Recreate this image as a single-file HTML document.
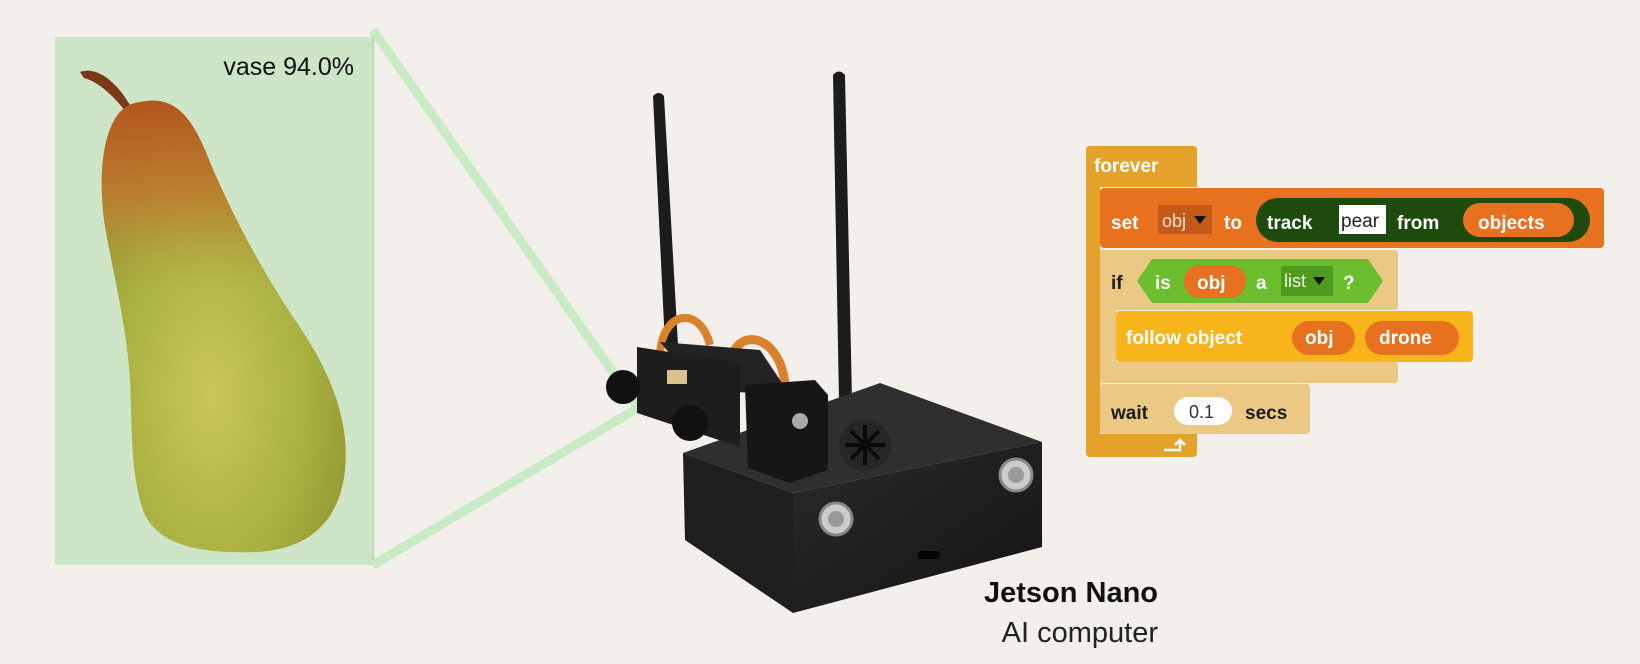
<!DOCTYPE html>
<html><head><meta charset="utf-8"><style>
html,body{margin:0;padding:0;background:#F3EFEB;}
svg{display:block}
.b{font-family:"Liberation Sans",sans-serif;font-weight:bold;font-size:19px;fill:#fff}
.k{fill:#1b1b1b}
</style></head><body>
<svg width="1640" height="664" viewBox="0 0 1640 664" xmlns="http://www.w3.org/2000/svg">
<defs>
<radialGradient id="pg" cx="0.45" cy="0.65" r="0.7">
<stop offset="0" stop-color="#C9C85A"/><stop offset="0.55" stop-color="#A9B140"/><stop offset="1" stop-color="#8C8E2E"/>
</radialGradient>
<linearGradient id="pt" x1="0" y1="0" x2="0" y2="1">
<stop offset="0" stop-color="#B5551E"/><stop offset="0.22" stop-color="#C07A2C" stop-opacity="0.8"/><stop offset="0.42" stop-color="#B0A040" stop-opacity="0"/>
</linearGradient>
<linearGradient id="bx" x1="0" y1="0" x2="1" y2="1"><stop offset="0" stop-color="#2a2a2a"/><stop offset="1" stop-color="#141414"/></linearGradient>
</defs>
<rect width="1640" height="664" fill="#F3EFEB"/>
<rect x="55" y="37" width="318" height="528" fill="#CFE5C8"/>
<line x1="373" y1="37" x2="373" y2="565" stroke="#BFE3B8" stroke-width="3"/>
<line x1="373" y1="30" x2="638" y2="408" stroke="#C9EAC4" stroke-width="9"/>
<line x1="373" y1="565" x2="638" y2="408" stroke="#C9EAC4" stroke-width="9"/>
<path d="M80,72 C95,66 115,80 128,102 L138,116 L132,120 C118,100 100,82 84,78 Z" fill="#7A3A18"/>
<path d="M140,102 C170,96 188,110 205,150 C225,200 255,260 295,320 C330,370 350,420 345,470 C340,520 310,550 255,552 C200,554 160,545 145,515 C130,480 132,420 130,380 C126,320 112,270 104,220 C98,170 104,130 120,112 C127,105 133,103 140,102 Z" fill="url(#pg)"/>
<path d="M140,102 C170,96 188,110 205,150 C225,200 255,260 295,320 C330,370 350,420 345,470 C340,520 310,550 255,552 C200,554 160,545 145,515 C130,480 132,420 130,380 C126,320 112,270 104,220 C98,170 104,130 120,112 C127,105 133,103 140,102 Z" fill="url(#pt)"/>
<text x="354" y="75" text-anchor="end" font-family="Liberation Sans,sans-serif" font-size="25" fill="#111">vase 94.0%</text>
<path d="M653,96 Q659,90 664,96 L678,345 L665,345 Z" fill="#1c1c1c"/>
<path d="M833,75 Q839,68 845,75 L852,400 L839,400 Z" fill="#1c1c1c"/>
<polygon points="683,453 880,383 1042,442 793,493" fill="#2f2f2f"/>
<polygon points="683,453 793,493 793,613 685,540" fill="#1e1e1e"/>
<polygon points="793,493 1042,442 1042,547 793,613" fill="url(#bx)"/>
<circle cx="865" cy="445" r="26" fill="#262626"/>
<g stroke="#0a0a0a" stroke-width="4"><line x1="845" y1="445" x2="885" y2="445"/><line x1="865" y1="425" x2="865" y2="465"/><line x1="851" y1="431" x2="879" y2="459"/><line x1="879" y1="431" x2="851" y2="459"/></g>
<circle cx="836" cy="519" r="16" fill="#ccc" stroke="#888" stroke-width="3"/><circle cx="836" cy="519" r="8" fill="#999"/>
<circle cx="1016" cy="475" r="16" fill="#ccc" stroke="#888" stroke-width="3"/><circle cx="1016" cy="475" r="8" fill="#999"/>
<rect x="918" y="551" width="22" height="8" rx="3" fill="#050505"/>
<path d="M660,355 C662,310 700,305 710,345" stroke="#D9822B" stroke-width="8" fill="none"/>
<path d="M730,370 C730,325 780,330 785,385" stroke="#D9822B" stroke-width="9" fill="none"/>
<polygon points="660,342 760,350 790,395 700,390" fill="#232323"/>
<polygon points="637,347 740,363 740,447 637,413" fill="#1d1d1d"/>
<rect x="667" y="370" width="20" height="14" fill="#D8C38E"/>
<circle cx="623" cy="387" r="17" fill="#111"/><circle cx="690" cy="423" r="18" fill="#111"/>
<polygon points="745,385 815,380 828,395 828,470 790,483 748,468" fill="#161616"/>
<circle cx="800" cy="421" r="8" fill="#aaa"/>
<text x="1158" y="602" text-anchor="end" font-family="Liberation Sans,sans-serif" font-weight="bold" font-size="29" fill="#111">Jetson Nano</text>
<text x="1158" y="642" text-anchor="end" font-family="Liberation Sans,sans-serif" font-size="29" fill="#222">AI computer</text>
<path d="M1086,150 Q1086,146 1090,146 L1193,146 Q1197,146 1197,150 L1197,187 L1100,187 L1100,434 L1197,434 L1197,453 Q1197,457 1193,457 L1090,457 Q1086,457 1086,453 Z" fill="#E5A22B"/>
<text class="b" x="1094" y="172">forever</text>
<path d="M1164,450 L1180,450 L1180,440 M1175,445 L1180,440 L1185,445" stroke="#fff" stroke-width="2.5" fill="none"/>
<rect x="1100" y="188" width="504" height="60" rx="4" fill="#E8711F"/>
<text class="b" x="1111" y="229">set</text>
<rect x="1158" y="205" width="54" height="29" fill="#C45A17"/>
<text x="1162" y="227" font-family="Liberation Sans,sans-serif" font-size="18" fill="#f5e0d0">obj</text>
<polygon points="1194,216 1206,216 1200,224" fill="#111"/>
<text class="b" x="1224" y="229">to</text>
<rect x="1256" y="198" width="334" height="44" rx="22" fill="#1E4A0D"/>
<text class="b" x="1267" y="229">track</text>
<rect x="1339" y="205" width="47" height="29" fill="#fff"/>
<text x="1341" y="227" font-family="Liberation Sans,sans-serif" font-size="19" fill="#222">pear</text>
<text class="b" x="1397" y="229">from</text>
<rect x="1463" y="203" width="111" height="34" rx="17" fill="#E8711F"/>
<text class="b" x="1478" y="229" font-size="20">objects</text>
<path d="M1100,250 L1394,250 Q1398,250 1398,254 L1398,306 Q1398,310 1394,310 L1116,310 L1116,362 L1394,362 Q1398,362 1398,366 L1398,380 Q1398,383 1394,383 L1100,383 Z" fill="#EBC883"/>
<text class="b k" x="1111" y="289">if</text>
<polygon points="1137,281 1152,259 1368,259 1383,281 1368,303 1152,303" fill="#6BBE2D"/>
<text class="b" x="1155" y="289">is</text>
<rect x="1184" y="265" width="62" height="33" rx="16" fill="#E8711F"/>
<text class="b" x="1197" y="289">obj</text>
<text class="b" x="1256" y="289">a</text>
<rect x="1281" y="266" width="52" height="30" fill="#4F9B1F"/>
<text x="1284" y="287" font-family="Liberation Sans,sans-serif" font-size="18" fill="#e8f5dd">list</text>
<polygon points="1313,277 1325,277 1319,285" fill="#111"/>
<text class="b" x="1343" y="289">?</text>
<rect x="1116" y="311" width="357" height="51" rx="4" fill="#F8B51B"/>
<text class="b" x="1126" y="344" font-size="20">follow object</text>
<rect x="1292" y="321" width="63" height="34" rx="17" fill="#E8711F"/>
<text class="b" x="1305" y="344">obj</text>
<rect x="1365" y="321" width="94" height="34" rx="17" fill="#E8711F"/>
<text class="b" x="1379" y="344" font-size="20">drone</text>
<rect x="1100" y="384" width="210" height="50" rx="4" fill="#EBC883"/>
<text class="b k" x="1111" y="419">wait</text>
<rect x="1174" y="397" width="58" height="28" rx="14" fill="#fff"/>
<text x="1189" y="418" font-family="Liberation Sans,sans-serif" font-size="18" fill="#333">0.1</text>
<text class="b k" x="1245" y="419">secs</text>
</svg>
</body></html>
